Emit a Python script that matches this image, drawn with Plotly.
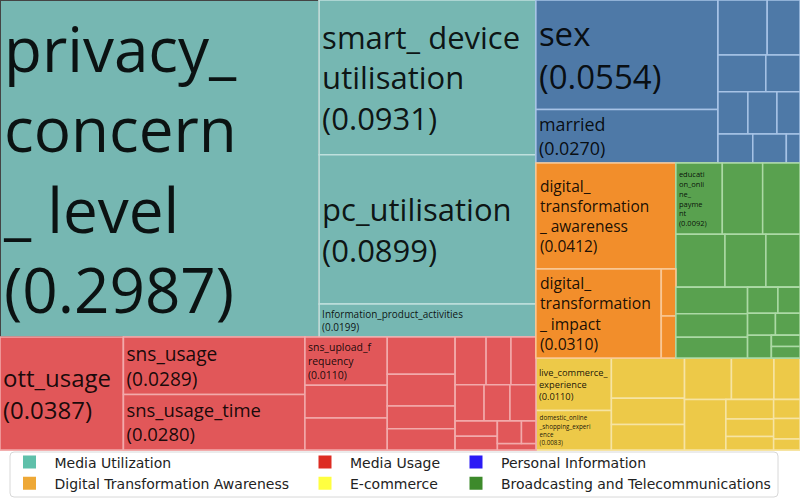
import plotly.graph_objects as go

# ---------------- data ----------------
group_names = ["Media Utilization", "Digital Transformation Awareness", "Media Usage",
               "E-commerce", "Personal Information", "Broadcasting and Telecommunications"]

item_names = ["privacy_concern_level", "smart_device_utilisation", "pc_utilisation",
              "Information_product_activities", "ott_usage", "sns_usage", "sns_usage_time",
              "sns_upload_frequency", "sex", "married", "digital_transformation_awareness",
              "digital_transformation_impact", "education_online_payment",
              "live_commerce_experience", "domestic_online_shopping_experience"]
item_values = [0.2987, 0.0931, 0.0899, 0.0199, 0.0387, 0.0289, 0.0280, 0.0110,
               0.0554, 0.0270, 0.0412, 0.0310, 0.0092, 0.0110, 0.0083]
item_display = ["privacy_<br>concern<br>_ level", "smart_ device<br>utilisation", "pc_utilisation",
                "Information_product_activities", "ott_usage", "sns_usage", "sns_usage_time",
                "sns_upload_f<br>requency", "sex", "married", "digital_<br>transformation<br>_ awareness",
                "digital_<br>transformation<br>_ impact", "educati<br>on_onli<br>ne_<br>payme<br>nt",
                "live_commerce_<br>experience", "domestic_online<br>_shopping_experi<br>ence"]

# hierarchy of each group (strings = named features, numbers = unnamed small features)
media_utilization = ["privacy_concern_level",
                     ["smart_device_utilisation", "pc_utilisation", "Information_product_activities"]]
media_usage = ["ott_usage",
               ["sns_usage", "sns_usage_time"],
               ["sns_upload_frequency", 0.0075, 0.0073],
               [0.0070, 0.0060, 0.0043, 0.0040],
               [[0.0041, 0.0033, 0.0033], [0.0029, 0.0026, 0.0026],
                [[0.0018, 0.0016], [[0.0015, 0.0009], 0.0007]]]]
personal_information = [["sex", "married"],
                        [[0.0075, 0.0050], [0.0049, 0.0035], [0.0035, 0.0034, 0.0027],
                         [0.0028, 0.0027, 0.0011]]]
digital_transformation = ["digital_transformation_awareness",
                          ["digital_transformation_impact", [0.0019, 0.0017]]]
broadcasting = [["education_online_payment", 0.0080, 0.0074],
                [0.0072, 0.0060, 0.0050],
                [[0.0053, 0.0047, 0.0041],
                 [[0.0022, 0.0016], [0.0017, 0.0015], [0.0015, [0.0009, 0.0009]]]]]
ecommerce = [["live_commerce_experience", "domestic_online_shopping_experience"],
             [0.0082, 0.0053, 0.0052],
             [[0.0054, 0.0049, 0.0030], [0.0058, [0.0026, 0.0023, 0.0018], [0.0014, 0.0015, 0.0008]]]]

# ---------------- styles ----------------
tile_colors = {"Media Utilization": "#76B7B2", "Digital Transformation Awareness": "#F28E2B",
               "Media Usage": "#E15759", "E-commerce": "#EDC948",
               "Personal Information": "#4E79A7", "Broadcasting and Telecommunications": "#59A14F"}
border_colors = {"Media Utilization": "#bfe0dd", "Digital Transformation Awareness": "#f9c795",
                 "Media Usage": "#f2aaab", "E-commerce": "#f6e4a3",
                 "Personal Information": "#a7c3e6", "Broadcasting and Telecommunications": "#acd9a5"}
legend_colors = {"Media Utilization": "#5fc0aa", "Digital Transformation Awareness": "#eea836",
                 "Media Usage": "#dd2c22", "E-commerce": "#ffff40",
                 "Personal Information": "#2b1af5", "Broadcasting and Telecommunications": "#3d8a2b"}
label_sizes = {"privacy_concern_level": 62, "smart_device_utilisation": 31, "pc_utilisation": 31,
               "Information_product_activities": 12, "ott_usage": 24, "sns_usage": 19.5,
               "sns_usage_time": 19.5, "sns_upload_frequency": 12, "sex": 33, "married": 20,
               "digital_transformation_awareness": 15.5, "digital_transformation_impact": 16,
               "education_online_payment": 7.5, "live_commerce_experience": 9.5,
               "domestic_online_shopping_experience": 9}

# ---------------- build hierarchy ----------------
ids, labels, parents, values, colors, texts, sizes, lwidths, lcolors = [], [], [], [], [], [], [], [], []
counter = [0]


def add(node, parent_id, group):
    counter[0] += 1
    nid = "n%d" % counter[0]
    ids.append(nid)
    parents.append(parent_id)
    colors.append(tile_colors[group])
    lcolors.append(border_colors[group])
    lwidths.append(1.5)
    if isinstance(node, list):
        labels.append("")
        values.append(0)
        texts.append("")
        sizes.append(10)
        for ch in node:
            add(ch, nid, group)
    elif isinstance(node, str):
        k = item_names.index(node)
        labels.append(node)
        values.append(item_values[k])
        texts.append("%s<br>(%.4f)" % (item_display[k], item_values[k]))
        sizes.append(label_sizes[node])
    else:
        labels.append("")
        values.append(node)
        texts.append("")
        sizes.append(10)
    return nid


def add_branch(parent_id):
    counter[0] += 1
    nid = "n%d" % counter[0]
    ids.append(nid); parents.append(parent_id); colors.append("rgba(255,255,255,0)")
    lcolors.append("white")
    labels.append(""); values.append(0); texts.append(""); sizes.append(10); lwidths.append(0)
    return nid


root = add_branch("")
left = add_branch(root)
right = add_branch(root)
add(media_utilization, left, "Media Utilization")
add(media_usage, left, "Media Usage")
add(personal_information, right, "Personal Information")
mid = add_branch(right)
add(digital_transformation, mid, "Digital Transformation Awareness")
add(broadcasting, mid, "Broadcasting and Telecommunications")
add(ecommerce, right, "E-commerce")

fig = go.Figure()
fig.add_trace(go.Treemap(
    ids=ids, labels=labels, parents=parents, values=values,
    branchvalues="remainder", sort=False,
    text=texts, textinfo="text", textposition="middle left",
    textfont=dict(family="Open Sans", size=sizes, color="rgba(0,0,0,0.9)"),
    marker=dict(colors=colors, line=dict(color=lcolors, width=lwidths),
                pad=dict(t=0, l=0, r=0, b=0), depthfade=False),
    tiling=dict(packing="slice-dice", pad=0),
    pathbar=dict(visible=False),
    domain=dict(x=[0, 1], y=[48 / 498, 1]),
    hoverinfo="skip",
))

legend_of = {"Media Utilization": "legend", "Digital Transformation Awareness": "legend",
             "Media Usage": "legend2", "E-commerce": "legend2",
             "Personal Information": "legend3", "Broadcasting and Telecommunications": "legend3"}
for g in group_names:
    fig.add_trace(go.Scatter(x=[None], y=[None], mode="markers", name=g,
                             marker=dict(symbol="square", size=13, color=legend_colors[g]),
                             legend=legend_of[g], showlegend=True, hoverinfo="skip"))

W, H = 800, 498
common = dict(orientation="v", xanchor="left", yanchor="top", y=1 - 446.5 / H,
              bgcolor="rgba(0,0,0,0)", borderwidth=0, itemwidth=40,
              font=dict(family="DejaVu Sans", size=14, color="#222"))

x0, x1, y0, y1, r = 10 / W, 778 / W, 1 - 497 / H, 1 - 452 / H, 4
rx, ry = r / W, r / H
box_path = (f"M {x0+rx},{y1} L {x1-rx},{y1} Q {x1},{y1} {x1},{y1-ry} L {x1},{y0+ry} "
            f"Q {x1},{y0} {x1-rx},{y0} L {x0+rx},{y0} Q {x0},{y0} {x0},{y0+ry} "
            f"L {x0},{y1-ry} Q {x0},{y1} {x0+rx},{y1} Z")

fig.update_layout(
    width=W, height=H,
    margin=dict(l=0, r=0, t=0, b=0, autoexpand=False),
    paper_bgcolor="white", plot_bgcolor="rgba(0,0,0,0)",
    xaxis=dict(visible=False, domain=[0.9, 0.91]), yaxis=dict(visible=False, domain=[0, 0.01]),
    legend=dict(x=4.5 / W, **common),
    legend2=dict(x=300 / W, **common),
    legend3=dict(x=451 / W, **common),
    shapes=[dict(type="path", path=box_path, xref="paper", yref="paper",
                 line=dict(color="#d8d8d8", width=1), fillcolor="white", layer="above")],
)

fig.write_html("out.html")
